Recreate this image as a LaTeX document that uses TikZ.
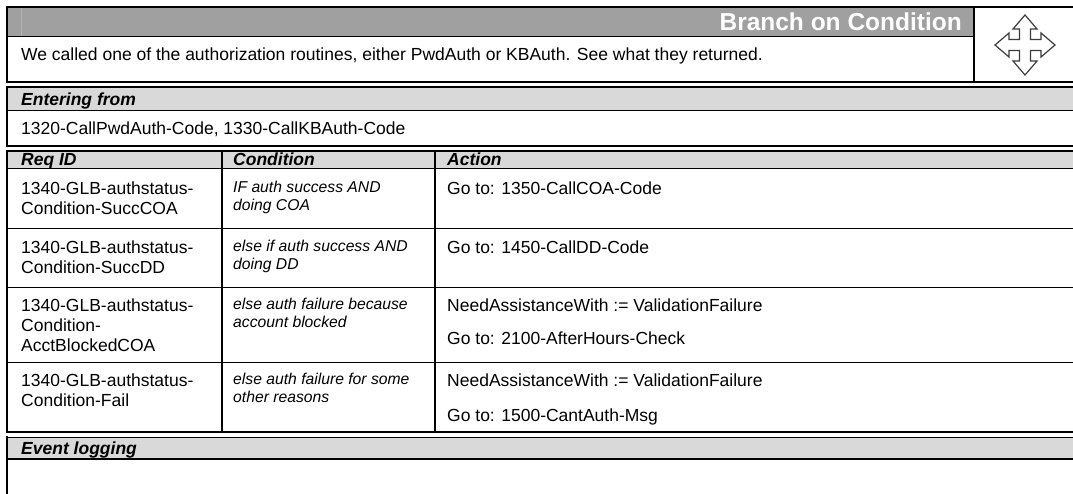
\documentclass[tikz,border=0pt]{standalone}
\usepackage{fontspec}
\setmainfont{Liberation Sans}
\definecolor{titlegray}{HTML}{A0A0A0}
\definecolor{bandgray}{HTML}{D9D9D9}
\definecolor{stripegray}{HTML}{B2B2B2}
\definecolor{icongray}{HTML}{3C3C3C}
\tikzset{
  txt/.style={anchor=base west, inner sep=0pt, font=\fontsize{17.5}{20}\selectfont},
  cond/.style={anchor=base west, inner sep=0pt, font=\fontsize{15.7}{18}\selectfont\itshape},
  hdr/.style={anchor=base west, inner sep=0pt, font=\fontsize{17.5}{20}\selectfont\bfseries\itshape},
  ttl/.style={anchor=base east, inner sep=0pt, text=white, font=\fontsize{24.5}{28}\selectfont\bfseries},
  heavy/.style={line width=2pt},
  medium/.style={line width=1.5pt},
  light/.style={line width=1pt},
  colline/.style={line width=1.5pt},
  iconline/.style={draw=icongray, line width=1.2pt, fill=white, line join=miter}
}
\begin{document}
\begin{tikzpicture}[x=1pt,y=-1pt]
\useasboundingbox (0,0) rectangle (1073,493);
\fill[white] (0,0) rectangle (1073,493);

% ---------- title / description table ----------
\fill[titlegray] (7,7) rectangle (973,36);
\draw[stripegray, line width=0.8pt] (21,8) -- (21,35.5);
\draw[light] (7,36) -- (974,36);
\draw[colline] (974,7) -- (974,82);
\draw[heavy] (6,7) -- (1074,7);
\draw[heavy] (6,82) -- (1074,82);
\draw[heavy] (7,6) -- (7,83);
\node[ttl] (title) at (962,30.5) {Branch on Condition};
\node[txt] (desc) at (21,60) {We called one of the authorization routines, either PwdAuth or KBAuth. See what they returned.};

% move icon
\coordinate (ic) at (1025,45);
\draw[iconline] ([shift={(0,-30)}]ic) -- ([shift={(12,-16)}]ic) -- ([shift={(5.5,-16)}]ic) -- ([shift={(5.5,-5.5)}]ic)
  -- ([shift={(16,-5.5)}]ic) -- ([shift={(16,-12)}]ic) -- ([shift={(30,0)}]ic) -- ([shift={(16,12)}]ic)
  -- ([shift={(16,5.5)}]ic) -- ([shift={(5.5,5.5)}]ic) -- ([shift={(5.5,16)}]ic) -- ([shift={(12,16)}]ic)
  -- ([shift={(0,30)}]ic) -- ([shift={(-12,16)}]ic) -- ([shift={(-5.5,16)}]ic) -- ([shift={(-5.5,5.5)}]ic)
  -- ([shift={(-16,5.5)}]ic) -- ([shift={(-16,12)}]ic) -- ([shift={(-30,0)}]ic) -- ([shift={(-16,-12)}]ic)
  -- ([shift={(-16,-5.5)}]ic) -- ([shift={(-5.5,-5.5)}]ic) -- ([shift={(-5.5,-16)}]ic) -- ([shift={(-12,-16)}]ic) -- cycle;

% ---------- entering from ----------
\fill[bandgray] (7,87) rectangle (1074,110);
\draw[medium] (6,87) -- (1074,87);
\draw[light] (7,110) -- (1074,110);
\draw[heavy] (6,146) -- (1074,146);
\draw[heavy] (7,86) -- (7,147);
\node[hdr] (enthead) at (21,105) {Entering from};
\node[txt] (entbody) at (21,134) {1320-CallPwdAuth-Code, 1330-CallKBAuth-Code};

% ---------- main table ----------
\fill[bandgray] (7,151) rectangle (1074,168);
\draw[medium] (6,151) -- (1074,151);
\draw[light] (7,168) -- (1074,168);
\draw[light] (7,228) -- (1074,228);
\draw[light] (7,287) -- (1074,287);
\draw[light] (7,362) -- (1074,362);
\draw[heavy] (6,432) -- (1074,432);
\draw[heavy] (7,150) -- (7,433);
\draw[colline] (222,151) -- (222,432);
\draw[colline] (435,151) -- (435,432);

\node[hdr] (hreq) at (21,165.5) {Req ID};
\node[hdr] (hcond) at (233,165.5) {Condition};
\node[hdr] (hact) at (447,165.5) {Action};

% row 1
\node[txt] (r1ida) at (21,194) {1340-GLB-authstatus-};
\node[txt] (r1idb) at (21,214) {Condition-SuccCOA};
\node[cond] (r1ca) at (233,192.5) {IF auth success AND};
\node[cond] (r1cb) at (233,210.5) {doing COA};
\node[txt] (r1act) at (447,194) {Go to: 1350-CallCOA-Code};

% row 2
\node[txt] (r2ida) at (21,253) {1340-GLB-authstatus-};
\node[txt] (r2idb) at (21,273) {Condition-SuccDD};
\node[cond] (r2ca) at (233,251.5) {else if auth success AND};
\node[cond] (r2cb) at (233,269.5) {doing DD};
\node[txt] (r2act) at (447,253) {Go to: 1450-CallDD-Code};

% row 3
\node[txt] (r3ida) at (21,311) {1340-GLB-authstatus-};
\node[txt] (r3idb) at (21,331) {Condition-};
\node[txt] (r3idc) at (21,351) {AcctBlockedCOA};
\node[cond] (r3ca) at (233,309.5) {else auth failure because};
\node[cond] (r3cb) at (233,327.5) {account blocked};
\node[txt] (r3acta) at (447,311) {NeedAssistanceWith := ValidationFailure};
\node[txt] (r3actb) at (447,344) {Go to: 2100-AfterHours-Check};

% row 4
\node[txt] (r4ida) at (21,386) {1340-GLB-authstatus-};
\node[txt] (r4idb) at (21,406) {Condition-Fail};
\node[cond] (r4ca) at (233,384.5) {else auth failure for some};
\node[cond] (r4cb) at (233,402.5) {other reasons};
\node[txt] (r4acta) at (447,386) {NeedAssistanceWith := ValidationFailure};
\node[txt] (r4actb) at (447,421) {Go to: 1500-CantAuth-Msg};

% ---------- event logging ----------
\fill[bandgray] (7,437) rectangle (1074,459);
\draw[light] (6,437) -- (1074,437);
\draw[heavy] (7,459) -- (1074,459);
\draw[heavy] (7,436) -- (7,494);
\node[hdr] (evhead) at (21,454) {Event logging};
\end{tikzpicture}
\end{document}
